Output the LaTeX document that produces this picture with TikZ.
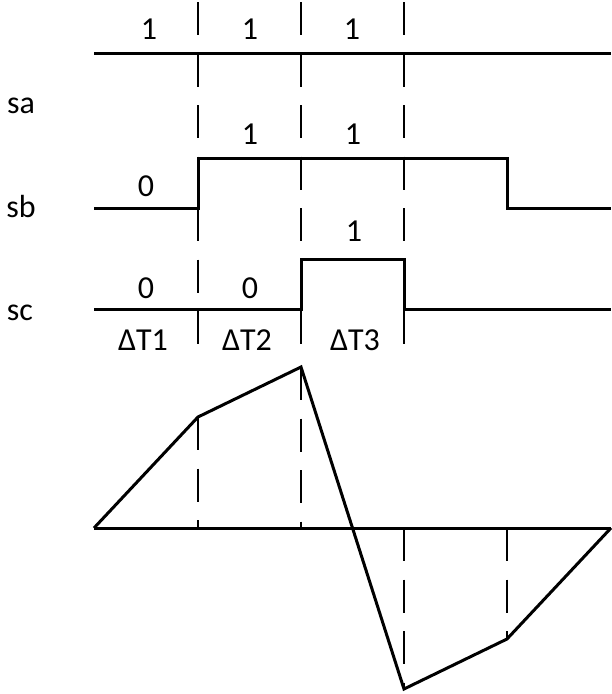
\documentclass[tikz,border=0pt]{standalone}
\usepackage{fontspec}
\setmainfont{Carlito}
\begin{document}
\begin{tikzpicture}[x=1pt,y=-1pt,
  sig/.style={line width=3pt, line join=miter},
  guide/.style={line width=1.6pt, dash pattern=on 33pt off 18.5pt},
  lbl/.style={font=\fontsize{32}{38}\selectfont, inner sep=0pt, anchor=base}]
\useasboundingbox (0,0) rectangle (612,694);
% time grid coordinates
\coordinate (g1t) at (198,2);   \coordinate (g1b) at (198,344);
\coordinate (g2t) at (301,2);   \coordinate (g2b) at (301,344);
\coordinate (g3t) at (404,2);   \coordinate (g3b) at (404,344);
% sa
\coordinate (a0) at (94,53);  \coordinate (a1) at (611,53);
% sb
\coordinate (b0) at (94,208); \coordinate (b1) at (198,208); \coordinate (b2) at (198,158);
\coordinate (b3) at (507,158); \coordinate (b4) at (507,208); \coordinate (b5) at (611,208);
% sc
\coordinate (c0) at (94,309); \coordinate (c1) at (301,309); \coordinate (c2) at (301,259);
\coordinate (c3) at (404,259); \coordinate (c4) at (404,309); \coordinate (c5) at (611,309);
% lower waveform
\coordinate (w0) at (94,528);  \coordinate (w1) at (198,417); \coordinate (w2) at (301,367);
\coordinate (w3) at (404,689); \coordinate (w4) at (507,639); \coordinate (w5) at (611,528);
\coordinate (x1) at (198,528); \coordinate (x2) at (301,528);
\coordinate (x3) at (404,528); \coordinate (x4) at (507,528);

% dashed guides
\draw[guide] (g1t) -- (g1b);
\draw[guide] (g2t) -- (g2b);
\draw[guide] (g3t) -- (g3b);
\draw[guide] (w1) -- (x1);
\draw[guide] (w2) -- (x2);
\draw[guide] (x3) -- (w3);
\draw[guide] (x4) -- (w4);

% signals
\draw[sig] (a0) -- (a1);
\draw[sig] (b0) -- (b1) -- (b2) -- (b3) -- (b4) -- (b5);
\draw[sig] (c0) -- (c1) -- (c2) -- (c3) -- (c4) -- (c5);
\draw[sig] (w0) -- (w5);
\draw[sig] (w0) -- (w1) -- (w2) -- (w3) -- (w4) -- (w5);

% labels
\node[lbl] (na) at (21,113) {sa};
\node[lbl] (nb) at (21,217) {sb};
\node[lbl] (nc) at (20,320) {sc};

\node[lbl] (ta1) at (149,39) {1};
\node[lbl] (ta2) at (250,39) {1};
\node[lbl] (ta3) at (352,39) {1};

\node[lbl] (tb1) at (146,196) {0};
\node[lbl] (tb2) at (250,144) {1};
\node[lbl] (tb3) at (353,144) {1};

\node[lbl] (tc3) at (354,241) {1};
\node[lbl] (tc1) at (146,298) {0};
\node[lbl] (tc2) at (250,298) {0};

\node[lbl] (d1) at (143,350) {ΔT1};
\node[lbl] (d2) at (247,350) {ΔT2};
\node[lbl] (d3) at (355,350) {ΔT3};
\end{tikzpicture}
\end{document}
